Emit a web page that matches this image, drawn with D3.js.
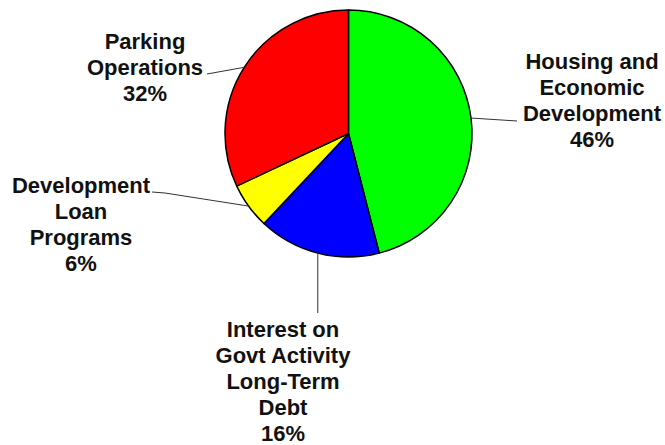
<!DOCTYPE html>
<html><head><meta charset="utf-8">
<script src="https://cdn.jsdelivr.net/npm/d3@7"></script>
<style>body{margin:0;background:#fff}svg{display:block}</style>
</head><body>
<script>
const categories = ["Housing and Economic Development", "Interest on Govt Activity Long-Term Debt", "Development Loan Programs", "Parking Operations"];
const values = [46, 16, 6, 32];
const labelLines = [
  ["Housing and", "Economic", "Development", "46%"],
  ["Interest on", "Govt Activity", "Long-Term", "Debt", "16%"],
  ["Development", "Loan", "Programs", "6%"],
  ["Parking", "Operations", "32%"]
];
const colors = ["#00ff00", "#0000ff", "#ffff00", "#ff0000"];

const W = 665, H = 445;
const cx = 348.5, cy = 133.5, R = 123.5;
const svg = d3.select("body").append("svg").attr("width", W).attr("height", H);
const g = svg.append("g").attr("transform", `translate(${cx},${cy})`);

const pie = d3.pie().sort(null).value(d => d)(values);
const arc = d3.arc().innerRadius(0).outerRadius(R);
g.selectAll("path").data(pie).enter().append("path")
  .attr("d", arc).attr("fill", (d, i) => colors[i])
  .attr("stroke", "#000").attr("stroke-width", 1.5);

// label text center x, first baseline y, leader end points (label side)
const layout = [
  {x: 592, y: 69, pts: [[517, 121]]},
  {x: 283, y: 337, pts: null},
  {x: 81, y: 193, pts: [[165, 193], [152, 192]]},
  {x: 145, y: 49, pts: [[207, 74]]}
];
const lh = 26;
const pt = (a, r) => [cx + r * Math.sin(a), cy - r * Math.cos(a)];

pie.forEach((d, i) => {
  const L = layout[i];
  const mid = (d.startAngle + d.endAngle) / 2;
  const s = pt(mid, R);
  const pts = [s];
  if (L.pts) L.pts.forEach(p => pts.push(p));
  else pts.push([s[0], 313]);
  svg.append("path").attr("d", d3.line()(pts)).attr("fill", "none")
    .attr("stroke", "#333").attr("stroke-width", 1);
  const t = svg.append("text").attr("text-anchor", "middle")
    .attr("font-family", "Liberation Sans, Arial, sans-serif")
    .attr("font-weight", "bold").attr("font-size", 22).attr("fill", "#111");
  labelLines[i].forEach((ln, j) => {
    t.append("tspan").attr("x", L.x).attr("y", L.y + j * lh).text(ln);
  });
});
</script>
</body></html>
